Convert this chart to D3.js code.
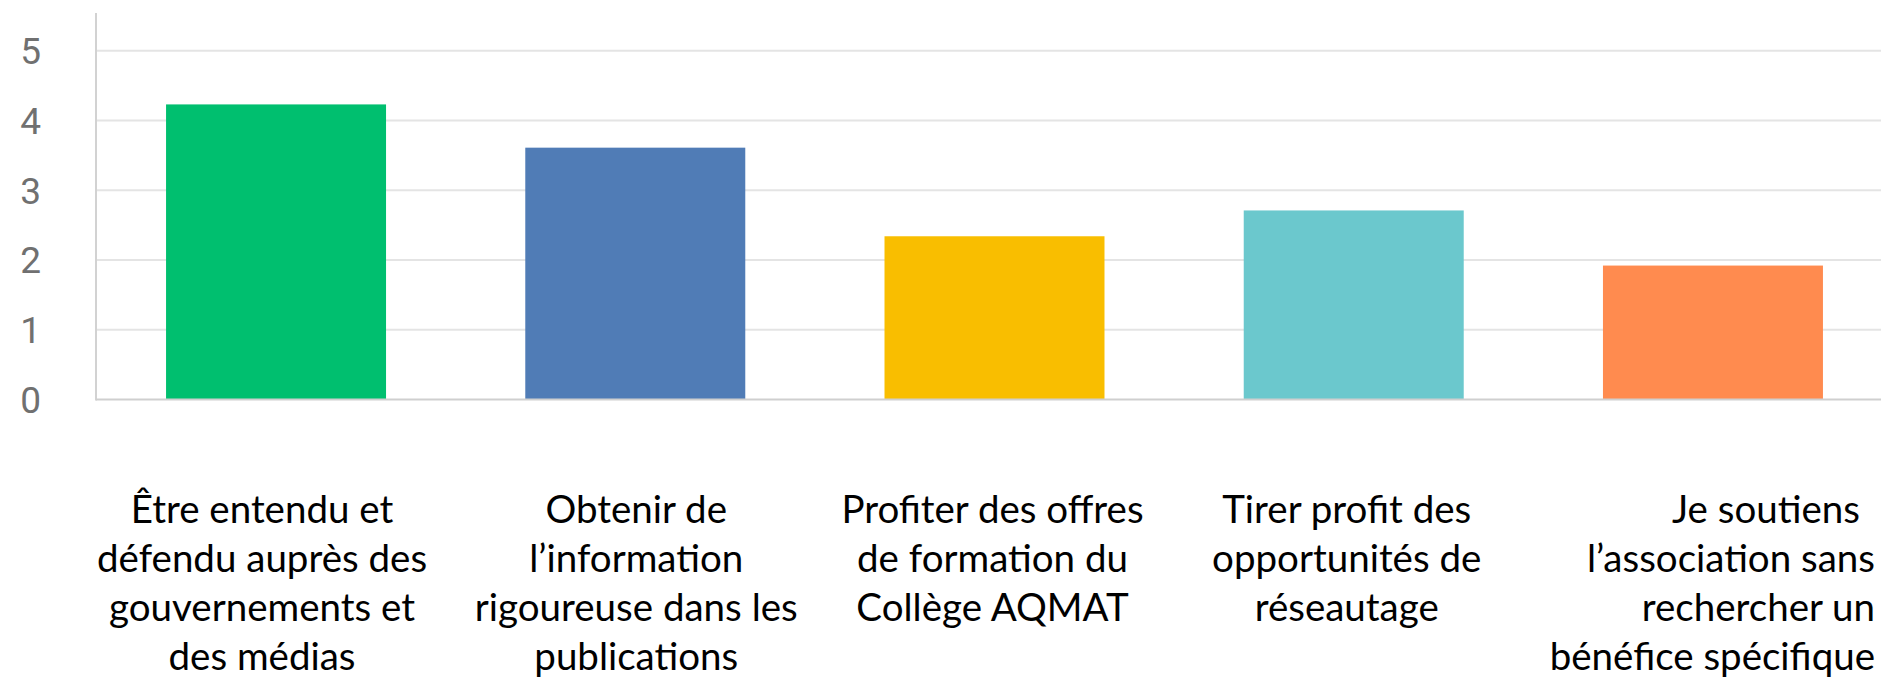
<!DOCTYPE html>
<html>
<head>
<meta charset="utf-8">
<script src="https://cdn.jsdelivr.net/npm/d3@7"></script>
<style>
	html, body { margin: 0; padding: 0; background: #fff; }
	svg { display: block; }
	.tick-label { font-family: Roboto, "Noto Sans", sans-serif; fill: #707070; }
	.cat-label { font-family: Lato, "Open Sans", sans-serif; fill: #000; }
</style>
</head>
<body>
<svg id="chart"></svg>
<script>
var categories = [
	"Être entendu et défendu auprès des gouvernements et des médias",
	"Obtenir de l’information rigoureuse dans les publications",
	"Profiter des offres de formation du Collège AQMAT",
	"Tirer profit des opportunités de réseautage",
	"Je soutiens l’association sans rechercher un bénéfice spécifique"
];
var labelLines = [
	["Être entendu et", "défendu auprès des", "gouvernements et", "des médias"],
	["Obtenir de", "l’information", "rigoureuse dans les", "publications"],
	["Profiter des offres", "de formation du", "Collège AQMAT"],
	["Tirer profit des", "opportunités de", "réseautage"],
	["Je soutiens", "l’association sans", "rechercher un", "bénéfice spécifique"]
];
var values = [4.23, 3.61, 2.34, 2.71, 1.92];
var yTicks = [0, 1, 2, 3, 4, 5];
var barColors = ["#00bf6f", "#507cb6", "#f9be00", "#6bc8cd", "#ff8b4f"];

var WIDTH = 1881, HEIGHT = 680;
var AXIS_X = 96, AXIS_TOP = 13;
var LABEL_FIRST_BASELINE = 523, LABEL_LINEHEIGHT = 49;
// labels were placed by hand in the original, slightly off the bar centres
var labelNudge = [-14, 1, -2, -7, 53];

var svg = d3.select("#chart")
	.attr("width", WIDTH)
	.attr("height", HEIGHT);

var x = d3.scaleBand()
	.domain(categories)
	.range([AXIS_X, 1893])
	.paddingInner(0.3876)
	.paddingOuter(0.195);

var y = d3.scaleLinear()
	.domain([0, 5])
	.range([399.5, 50.7]);

// gridlines
svg.append("g")
	.selectAll("line")
	.data(yTicks.filter(function(t) { return t > 0; }))
	.enter().append("line")
	.attr("x1", AXIS_X)
	.attr("x2", WIDTH)
	.attr("y1", function(t) { return y(t); })
	.attr("y2", function(t) { return y(t); })
	.attr("stroke", "#e4e4e4")
	.attr("stroke-width", 2);

// tick labels
svg.append("g")
	.selectAll("text")
	.data(yTicks)
	.enter().append("text")
	.classed("tick-label", true)
	.attr("x", 41)
	.attr("y", function(t) { return y(t); })
	.attr("dy", "0.36em")
	.attr("text-anchor", "end")
	.style("font-size", "37px")
	.text(function(t) { return t; });

// bars
svg.append("g")
	.selectAll("rect")
	.data(values)
	.enter().append("rect")
	.attr("x", function(v, i) { return x(categories[i]); })
	.attr("width", x.bandwidth())
	.attr("y", function(v) { return y(v); })
	.attr("height", function(v) { return y(0) - y(v); })
	.attr("fill", function(v, i) { return barColors[i]; });

// axis lines
svg.append("line")
	.attr("x1", AXIS_X).attr("x2", AXIS_X)
	.attr("y1", AXIS_TOP).attr("y2", y(0) + 1)
	.attr("stroke", "#d2d2d2")
	.attr("stroke-width", 2);

svg.append("line")
	.attr("x1", AXIS_X).attr("x2", WIDTH)
	.attr("y1", y(0)).attr("y2", y(0))
	.attr("stroke", "#cfcfcf")
	.attr("stroke-width", 2);

// category labels
svg.append("g")
	.selectAll("g.catLabel")
	.data(categories)
	.enter().append("g")
	.classed("catLabel", true)
	.each(function(cat, i) {
		var cx = x(cat) + x.bandwidth() / 2 + labelNudge[i];
		var g = d3.select(this);
		labelLines[i].forEach(function(line, j) {
			var t = g.append("text")
				.classed("cat-label", true)
				.attr("x", cx)
				.attr("y", LABEL_FIRST_BASELINE + j * LABEL_LINEHEIGHT)
				.attr("text-anchor", "middle")
				.style("font-size", "38.5px")
				.text(line);
			var w = t.node().getComputedTextLength();
			if (cx + w / 2 > WIDTH - 6) {
				t.attr("x", WIDTH - 6 - w / 2);
			}
		});
	});
</script>
</body>
</html>
